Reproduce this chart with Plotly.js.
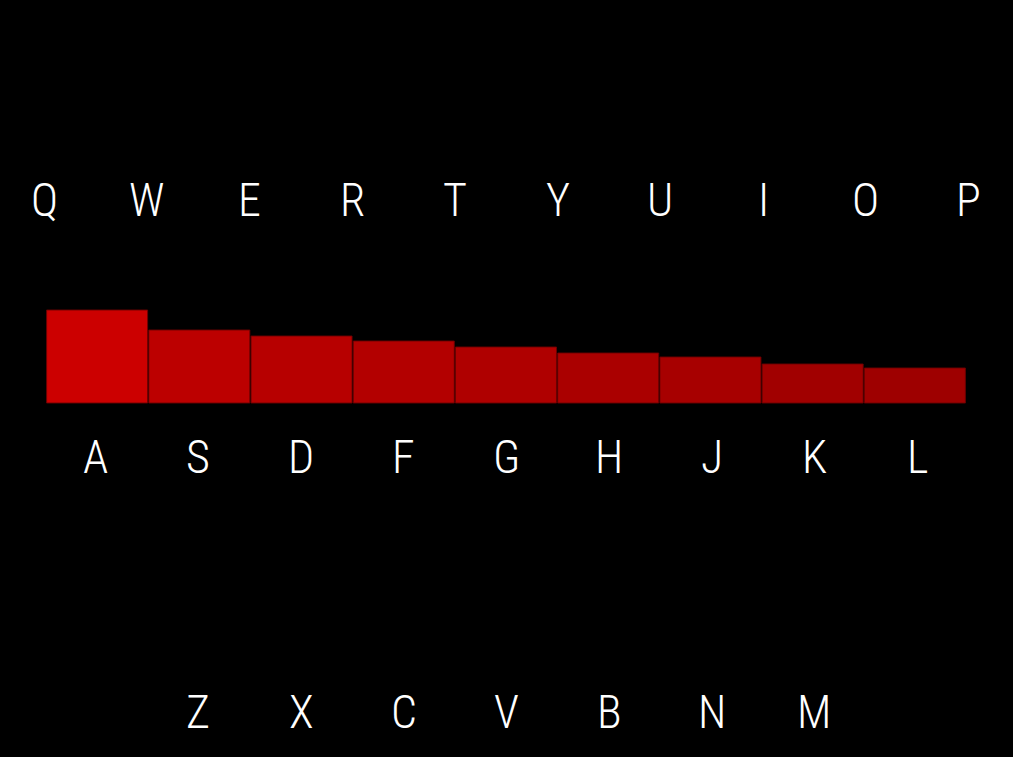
<!DOCTYPE html>
<html>
<head>
<meta charset="utf-8">
<script src="https://cdn.plot.ly/plotly-3.0.1.min.js"></script>
<style>html,body{margin:0;padding:0;background:#000;}#chart{width:1013px;height:757px;}</style>
</head>
<body>
<div id="chart"></div>
<script>
const barLabels = ["A","S","D","F","G","H","J","K","L"];
const barValues = [9.3, 7.3, 6.7, 6.2, 5.6, 5.0, 4.6, 3.9, 3.5];
const topRow = ["Q","W","E","R","T","Y","U","I","O","P"];
const bottomRow = ["Z","X","C","V","B","N","M"];

const fontFamily = '"Roboto Condensed", "Liberation Sans Narrow", "DejaVu Sans Condensed", sans-serif';
const letterFont = {family: fontFamily, size: 46, color: "#ffffff", weight: 300};

const xs = barLabels.map((_, i) => i);
const annotations = [];
topRow.forEach((t, i) => annotations.push({x: i - 0.5, y: 20.3, xref: "x2", yref: "y", text: t, showarrow: false, font: letterFont, xanchor: "center", yanchor: "middle"}));
barLabels.forEach((t, i) => annotations.push({x: i, y: -5.4, xref: "x2", yref: "y", text: t, showarrow: false, font: letterFont, xanchor: "center", yanchor: "middle"}));
bottomRow.forEach((t, i) => annotations.push({x: i + 1, y: -30.9, xref: "x2", yref: "y", text: t, showarrow: false, font: letterFont, xanchor: "center", yanchor: "middle"}));

const trace = {
  type: "bar",
  x: xs,
  y: barValues,
  text: barLabels,
  hoverinfo: "text+y",
  textposition: "none",
  marker: {
    color: barValues,
    colorscale: [[0, "#9e0000"], [1, "#cc0000"]],
    cmin: 3.5, cmax: 9.3,
    line: {color: "rgba(110,0,0,0.9)", width: 1}
  }
};

const layout = {
  width: 1013, height: 757,
  paper_bgcolor: "#000", plot_bgcolor: "#000",
  margin: {l: 0, r: 0, t: 0, b: 0, pad: 0},
  bargap: 0.012,
  showlegend: false,
  xaxis: {range: [-0.95, 8.96], visible: false, fixedrange: true},
  xaxis2: {range: [-0.931, 8.933], visible: false, fixedrange: true, overlaying: "x"},
  yaxis: {range: [-35.4, 40.3], visible: false, fixedrange: true},
  annotations: annotations
};

Plotly.newPlot("chart", [trace], layout, {displayModeBar: false, staticPlot: true});
</script>
</body>
</html>
